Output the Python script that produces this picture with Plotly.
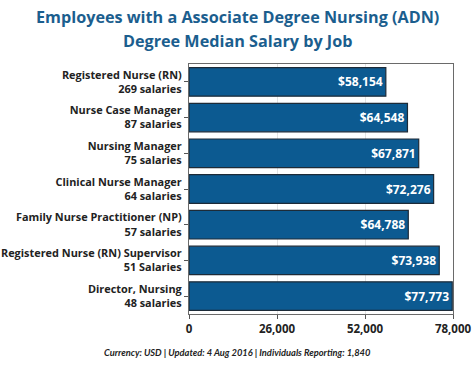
import plotly.graph_objects as go

jobs = ["Registered Nurse (RN)", "Nurse Case Manager", "Nursing Manager",
        "Clinical Nurse Manager", "Family Nurse Practitioner (NP)",
        "Registered Nurse (RN) Supervisor", "Director, Nursing"]
counts = ["269 salaries", "87 salaries", "75 salaries", "64 salaries",
          "57 salaries", "51 Salaries", "48 salaries"]
salaries = [58154, 64548, 67871, 72276, 64788, 73938, 77773]
x_ticks = [0, 26000, 52000, 78000]
title_lines = ["Employees with a Associate Degree Nursing (ADN)",
               "Degree Median Salary by Job"]
footer = "Currency: USD | Updated: 4 Aug 2016 | Individuals Reporting: 1,840"

labels = [f"{j}<br>{c}" for j, c in zip(jobs, counts)]
bar_text = [f"${v:,}" for v in salaries]

FONT = "Open Sans"

fig = go.Figure(go.Bar(
    x=salaries, y=labels, orientation="h",
    text=bar_text, textposition="inside", insidetextanchor="end",
    textfont=dict(color="white", size=12, family=FONT, weight="bold"),
    marker=dict(color="#0c5a91", line=dict(color="#1d2b38", width=1.2)),
    cliponaxis=False,
))

title_font = dict(family=FONT, size=16.2, color="#1b5e8e", weight="bold")
fig.update_layout(
    width=474, height=378,
    margin=dict(l=189, r=21, t=64, b=64, autoexpand=False),
    paper_bgcolor="white", plot_bgcolor="white",
    bargap=0.2,
    showlegend=False,
    font=dict(family=FONT, color="#222222"),
    annotations=[
        dict(text=title_lines[0], x=0.182, xref="paper", xanchor="center",
             y=1.188, yref="paper", yanchor="middle", showarrow=False,
             font=title_font),
        dict(text=title_lines[1], x=0.182, xref="paper", xanchor="center",
             y=1.092, yref="paper", yanchor="middle", showarrow=False,
             font=title_font),
        dict(
            text=f"<i>{footer}</i>",
            x=0.182, xref="paper", xanchor="center",
            y=-0.152, yref="paper", yanchor="middle",
            showarrow=False,
            font=dict(family="Lato", size=9.3, color="#222222", weight="bold",
                      style="italic"),
        ),
    ],
)

fig.update_xaxes(
    range=[0, 78000], tickvals=x_ticks, tickformat=",d",
    showgrid=True, gridcolor="#e3e3e3", gridwidth=1,
    showline=True, linecolor="#6a6a6a", linewidth=1.2, mirror=True,
    ticks="outside", ticklen=4, tickcolor="#555555",
    tickfont=dict(family=FONT, size=11.5, color="#222222", weight="bold"),
    zeroline=False, automargin=False,
)
fig.update_yaxes(
    autorange="reversed",
    showline=True, linecolor="#6a6a6a", linewidth=1.2, mirror=True,
    ticks="outside", ticklen=4, tickcolor="#555555",
    tickfont=dict(family=FONT, size=10.9, color="#222222", weight="bold"),
    showgrid=False, automargin=False,
)

fig.write_html("out.html", config={"displayModeBar": False},
               post_script="document.body.style.margin='0';document.body.style.overflow='hidden';")
